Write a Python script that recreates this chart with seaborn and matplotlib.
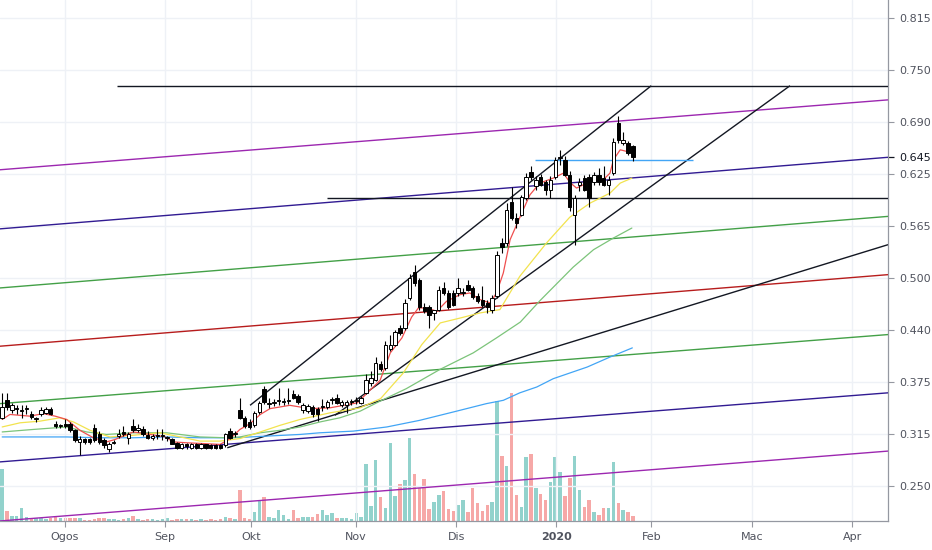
import numpy as np
import matplotlib
matplotlib.use('Agg')
from matplotlib import pyplot as plt
import seaborn as sns

sns.set_style('white')
plt.rcParams['font.family'] = ['DejaVu Sans']

#%% Data (daily bars, index = trading day)
opens = [
    0.332, 0.353, 0.341, 0.343, 0.340, 0.342, 0.337, 0.330, 0.336, 0.338,
    0.342, 0.325, 0.322, 0.325, 0.325, 0.317, 0.303, 0.306, 0.306, 0.320,
    0.313, 0.305, 0.295, 0.302, 0.310, 0.315, 0.308, 0.322, 0.317, 0.319,
    0.311, 0.308, 0.310, 0.310, 0.308, 0.306, 0.302, 0.296, 0.300, 0.296,
    0.300, 0.296, 0.300, 0.299, 0.299, 0.299, 0.299, 0.316, 0.312, 0.341,
    0.332, 0.327, 0.323, 0.339, 0.367, 0.348, 0.350, 0.352, 0.351, 0.352,
    0.361, 0.358, 0.341, 0.340, 0.345, 0.343, 0.345, 0.345, 0.353, 0.356,
    0.347, 0.347, 0.351, 0.352, 0.350, 0.362, 0.374, 0.378, 0.397, 0.392,
    0.415, 0.420, 0.440, 0.440, 0.476, 0.507, 0.497, 0.465, 0.465, 0.458,
    0.462, 0.488, 0.482, 0.482, 0.482, 0.482, 0.492, 0.488, 0.478, 0.474,
    0.470, 0.462, 0.478, 0.542, 0.542, 0.591, 0.572, 0.576, 0.596, 0.627,
    0.610, 0.621, 0.615, 0.606, 0.621, 0.644, 0.642, 0.624, 0.576, 0.612,
    0.620, 0.621, 0.615, 0.624, 0.620, 0.612, 0.626, 0.686, 0.662, 0.662,
    0.658]
highs = [
    0.362, 0.362, 0.350, 0.347, 0.347, 0.347, 0.340, 0.333, 0.345, 0.345,
    0.345, 0.328, 0.325, 0.330, 0.327, 0.318, 0.310, 0.308, 0.308, 0.325,
    0.316, 0.308, 0.303, 0.305, 0.318, 0.322, 0.315, 0.330, 0.325, 0.322,
    0.316, 0.312, 0.318, 0.318, 0.310, 0.308, 0.303, 0.302, 0.302, 0.302,
    0.302, 0.302, 0.301, 0.300, 0.300, 0.300, 0.314, 0.320, 0.316, 0.356,
    0.334, 0.330, 0.340, 0.352, 0.370, 0.356, 0.355, 0.368, 0.356, 0.368,
    0.366, 0.360, 0.350, 0.349, 0.347, 0.345, 0.355, 0.353, 0.357, 0.360,
    0.353, 0.353, 0.355, 0.357, 0.358, 0.385, 0.388, 0.405, 0.400, 0.424,
    0.432, 0.438, 0.444, 0.475, 0.505, 0.515, 0.500, 0.470, 0.468, 0.462,
    0.490, 0.495, 0.485, 0.485, 0.500, 0.488, 0.498, 0.490, 0.482, 0.490,
    0.474, 0.480, 0.532, 0.548, 0.590, 0.609, 0.578, 0.600, 0.626, 0.635,
    0.622, 0.625, 0.618, 0.622, 0.645, 0.654, 0.646, 0.628, 0.600, 0.620,
    0.624, 0.625, 0.627, 0.632, 0.635, 0.622, 0.668, 0.695, 0.675, 0.665,
    0.660]
lows = [
    0.330, 0.341, 0.338, 0.337, 0.332, 0.337, 0.330, 0.327, 0.334, 0.336,
    0.335, 0.320, 0.320, 0.320, 0.315, 0.303, 0.287, 0.300, 0.300, 0.303,
    0.300, 0.296, 0.291, 0.300, 0.308, 0.310, 0.300, 0.315, 0.315, 0.310,
    0.306, 0.305, 0.306, 0.305, 0.304, 0.300, 0.294, 0.294, 0.295, 0.295,
    0.294, 0.295, 0.294, 0.294, 0.294, 0.294, 0.297, 0.306, 0.309, 0.330,
    0.320, 0.318, 0.321, 0.337, 0.348, 0.344, 0.346, 0.347, 0.347, 0.348,
    0.354, 0.349, 0.338, 0.338, 0.333, 0.328, 0.340, 0.343, 0.349, 0.348,
    0.345, 0.338, 0.347, 0.348, 0.348, 0.360, 0.370, 0.376, 0.388, 0.390,
    0.412, 0.418, 0.432, 0.438, 0.474, 0.490, 0.462, 0.458, 0.440, 0.450,
    0.460, 0.480, 0.463, 0.466, 0.478, 0.478, 0.484, 0.475, 0.470, 0.465,
    0.458, 0.458, 0.476, 0.530, 0.538, 0.570, 0.560, 0.574, 0.594, 0.618,
    0.606, 0.610, 0.600, 0.596, 0.619, 0.636, 0.622, 0.580, 0.540, 0.605,
    0.604, 0.585, 0.612, 0.612, 0.610, 0.600, 0.624, 0.662, 0.660, 0.648,
    0.640]
closes = [
    0.345, 0.345, 0.347, 0.343, 0.340, 0.342, 0.333, 0.330, 0.341, 0.342,
    0.337, 0.322, 0.323, 0.322, 0.317, 0.305, 0.306, 0.303, 0.303, 0.305,
    0.303, 0.299, 0.300, 0.302, 0.313, 0.312, 0.312, 0.317, 0.320, 0.313,
    0.308, 0.310, 0.310, 0.310, 0.308, 0.301, 0.296, 0.300, 0.298, 0.300,
    0.296, 0.300, 0.296, 0.296, 0.296, 0.296, 0.312, 0.308, 0.313, 0.332,
    0.322, 0.321, 0.338, 0.350, 0.351, 0.348, 0.350, 0.352, 0.351, 0.352,
    0.356, 0.351, 0.347, 0.346, 0.336, 0.336, 0.345, 0.351, 0.353, 0.350,
    0.351, 0.351, 0.351, 0.352, 0.356, 0.377, 0.380, 0.398, 0.391, 0.420,
    0.420, 0.435, 0.434, 0.470, 0.500, 0.494, 0.465, 0.460, 0.455, 0.461,
    0.485, 0.482, 0.465, 0.468, 0.488, 0.482, 0.486, 0.477, 0.472, 0.467,
    0.465, 0.476, 0.528, 0.537, 0.582, 0.572, 0.566, 0.597, 0.621, 0.621,
    0.618, 0.612, 0.606, 0.618, 0.642, 0.644, 0.624, 0.585, 0.596, 0.615,
    0.606, 0.596, 0.624, 0.615, 0.612, 0.618, 0.663, 0.666, 0.666, 0.650,
    0.645]
volume = [
    52, 10, 5, 5, 13, 4, 3, 3, 3, 2,
    3, 5, 3, 3, 3, 3, 3, 1, 1, 2,
    3, 3, 2, 2, 1, 2, 3, 5, 2, 1,
    2, 2, 1, 2, 3, 1, 2, 2, 2, 2,
    1, 2, 1, 2, 1, 2, 4, 3, 2, 31,
    3, 2, 9, 20, 24, 4, 3, 11, 6, 2,
    11, 3, 4, 4, 4, 7, 11, 6, 8, 3,
    3, 3, 2, 8, 4, 57, 15, 61, 24, 13,
    78, 25, 37, 41, 83, 47, 33, 42, 12, 19,
    26, 30, 12, 10, 16, 21, 9, 33, 18, 10,
    16, 19, 120, 65, 55, 128, 26, 14, 64, 67,
    33, 27, 21, 39, 64, 49, 25, 43, 65, 31,
    14, 21, 9, 6, 13, 13, 59, 18, 11, 9,
    5]

# moving averages (bar index, price)
ma_red_x = [0, 1.6, 5.7, 8.5, 10.9, 13.3, 16, 18.8, 21.5, 23.3, 27, 30.5, 33.6, 35.3, 38,
            41.5, 44.9, 47, 49, 51.1, 53.2, 55.2, 59.3, 63.5, 67.6, 73.2, 75.8, 77.9, 80,
            82.4, 84.4, 85.8, 87.5, 89.6, 91.6, 94.4, 96.4, 98.5, 100.6, 101.9, 103.3,
            104.7, 107.4, 108.8, 110.8, 113.6, 115.7, 117, 118.4, 119.8, 121.9, 123.9,
            125.3, 126, 127.4, 128.8, 129.8]
ma_red_y = [0.330, 0.336, 0.334, 0.337, 0.334, 0.330, 0.317, 0.308, 0.303, 0.306, 0.315,
            0.312, 0.309, 0.303, 0.302, 0.301, 0.300, 0.307, 0.318, 0.325, 0.336, 0.343,
            0.347, 0.343, 0.344, 0.350, 0.365, 0.377, 0.410, 0.428, 0.453, 0.464, 0.464,
            0.460, 0.472, 0.480, 0.482, 0.474, 0.470, 0.482, 0.506, 0.546, 0.582, 0.600,
            0.614, 0.620, 0.626, 0.615, 0.608, 0.612, 0.618, 0.618, 0.626, 0.642, 0.654,
            0.652, 0.650]
ma_yellow_x = [0, 3.7, 7.8, 11.9, 14.7, 18.1, 22.2, 27, 32.5, 36.7, 40.8, 44.9, 49, 53.2,
               57.3, 61.4, 67.6, 73.8, 78, 82.7, 86.5, 90.3, 94.5, 98.5, 102.6, 106.7,
               112.2, 117, 121.2, 125.3, 127.4, 129.8]
ma_yellow_y = [0.321, 0.326, 0.328, 0.332, 0.327, 0.317, 0.309, 0.311, 0.314, 0.309, 0.304,
               0.304, 0.307, 0.315, 0.323, 0.330, 0.338, 0.344, 0.355, 0.386, 0.420, 0.446,
               0.452, 0.458, 0.462, 0.502, 0.542, 0.573, 0.590, 0.602, 0.614, 0.620]
ma_green_x = [0, 6.4, 13.3, 17.4, 21.5, 27, 33.9, 40.8, 46.3, 49, 53.2, 57.3, 61.4, 65.5,
              69.6, 73.8, 77.9, 83.3, 90.2, 97.1, 101.9, 106.8, 110.9, 117.7, 121.9, 126,
              129.8]
ma_green_y = [0.315, 0.318, 0.321, 0.315, 0.312, 0.314, 0.314, 0.309, 0.308, 0.309, 0.314,
              0.317, 0.321, 0.327, 0.332, 0.340, 0.352, 0.367, 0.390, 0.410, 0.428, 0.447,
              0.473, 0.513, 0.534, 0.548, 0.560]
ma_blue_x = [0, 6.4, 13.3, 20.2, 27, 33.9, 40.8, 47.7, 54.5, 61.4, 65.5, 72.4, 79.3, 86.1,
             93, 99.8, 103.3, 106.7, 110.2, 113.6, 120.6, 125.3, 129.9]
ma_blue_y = [0.309, 0.309, 0.309, 0.308, 0.308, 0.309, 0.308, 0.308, 0.310, 0.312, 0.314,
             0.316, 0.321, 0.329, 0.339, 0.349, 0.353, 0.362, 0.369, 0.379, 0.393, 0.405,
             0.416]

# drawn trend lines: start bar, start price, end bar, end price
trend_lines = [
    (23.7, 0.731, 182.6, 0.731),    # top horizontal
    (-0.5, 0.630, 182.6, 0.714),    # purple upper
    (-0.5, 0.559, 182.6, 0.645),    # navy upper
    (-0.5, 0.488, 182.6, 0.574),    # green upper
    (-0.5, 0.418, 182.6, 0.504),    # red
    (-0.5, 0.349, 182.6, 0.432),    # green lower
    (-0.5, 0.279, 182.6, 0.362),    # navy lower
    (-0.5, 0.208, 182.6, 0.292),    # purple lower
    (51.1, 0.347, 133.8, 0.731),    # channel upper
    (68.6, 0.335, 162.4, 0.731),    # channel lower
    (46.4, 0.296, 182.6, 0.540),    # long support
    (67.0, 0.596, 182.6, 0.596),    # mid horizontal
    (109.9, 0.642, 142.4, 0.642),   # resistance (light blue)
]
trend_colors = ['#131722', '#9c27b0', '#311b92', '#43a047', '#b71c1c', '#43a047',
                '#311b92', '#9c27b0', '#131722', '#131722', '#131722', '#131722', '#42a5f5']

price_ticks = [0.25, 0.3125, 0.375, 0.4375, 0.5, 0.5625, 0.625, 0.6875, 0.75, 0.8125]
price_labels = ['0.250', '0.315', '0.375', '0.440', '0.500', '0.565', '0.625', '0.690',
                '0.750', '0.815']
last_price = 0.645

month_labels = ['Ogos', 'Sep', 'Okt', 'Nov', 'Dis', '2020', 'Feb', 'Mac', 'Apr']
month_pos = [12.95, 33.6, 51.3, 72.9, 93.6, 114.2, 133.8, 154.6, 175.2]

#%% Plot
o = np.array(opens); h = np.array(highs); l = np.array(lows); c = np.array(closes)
x = np.arange(len(c))
up = c >= o

fig = plt.figure(figsize=(9.32, 5.5), dpi=100)
axv = fig.add_axes([0, 29 / 550, 888 / 932, 521 / 550])
ax = fig.add_axes([0, 29 / 550, 888 / 932, 521 / 550], sharex=axv)
ax.set_zorder(2)
ax.patch.set_visible(False)

# volume underneath
axv.bar(x, volume, width=0.72, color=np.where(up, '#26a69a', '#ef5350'), alpha=0.5,
        linewidth=0)
axv.set_ylim(0, 521)
axv.set_yticks([])
for s in axv.spines.values():
    s.set_visible(False)
axv.tick_params(axis='x', bottom=False, labelbottom=False)

# grid
for t in price_ticks:
    ax.axhline(t, color='#eef1f6', lw=1, zorder=0)
for t in month_pos:
    ax.axvline(t, color='#eef1f6', lw=1, zorder=0)

# trend lines
for (x0, y0, x1, y1), col in zip(trend_lines, trend_colors):
    ax.plot([x0, x1], [y0, y1], color=col, lw=1.0, zorder=3, solid_capstyle='butt')

# moving averages
sns.lineplot(x=ma_blue_x, y=ma_blue_y, ax=ax, color='#42a5f5', lw=0.9, zorder=3)
sns.lineplot(x=ma_green_x, y=ma_green_y, ax=ax, color='#7cc47a', lw=0.9, zorder=3)
sns.lineplot(x=ma_yellow_x, y=ma_yellow_y, ax=ax, color='#f2e34e', lw=0.9, zorder=3)
sns.lineplot(x=ma_red_x, y=ma_red_y, ax=ax, color='#ef4f4f', lw=0.9, zorder=3)

# candles
ax.vlines(x, l, h, color='black', lw=0.8, zorder=4)
ax.bar(x, np.maximum(np.abs(c - o), 0.0012), bottom=np.minimum(o, c), width=0.7,
       color=np.where(up, 'white', 'black'), edgecolor='black', linewidth=0.7, zorder=5)

ax.set_xlim(-0.45, 182.6)
ax.set_ylim(0.208, 0.834)

ax.yaxis.tick_right()
ax.set_yticks(price_ticks)
ax.set_yticklabels(price_labels)
ax.set_yticks([last_price], minor=True)
ax.set_yticklabels(['0.645'], minor=True)
ax.tick_params(axis='y', which='major', right=True, length=4, width=0.8, color='#9598a1',
               labelsize=8, labelcolor='#50535e', pad=4)
ax.tick_params(axis='y', which='minor', right=True, length=4, width=0.9, color='#131722',
               labelsize=8, labelcolor='#131722', pad=4)
ax.set_xticks(month_pos)
ax.set_xticklabels(month_labels)
ax.tick_params(axis='x', bottom=True, length=4, width=0.8, color='#9598a1', labelsize=8,
               labelcolor='#50535e', pad=4)
ax.get_xticklabels()[5].set_fontweight('bold')

for side in ['top', 'left']:
    ax.spines[side].set_visible(False)
for side in ['right', 'bottom']:
    ax.spines[side].set_color('#9598a1')
    ax.spines[side].set_linewidth(0.9)
ax.set_xlabel('')
ax.set_ylabel('')

fig.savefig('out.png', dpi=100)
